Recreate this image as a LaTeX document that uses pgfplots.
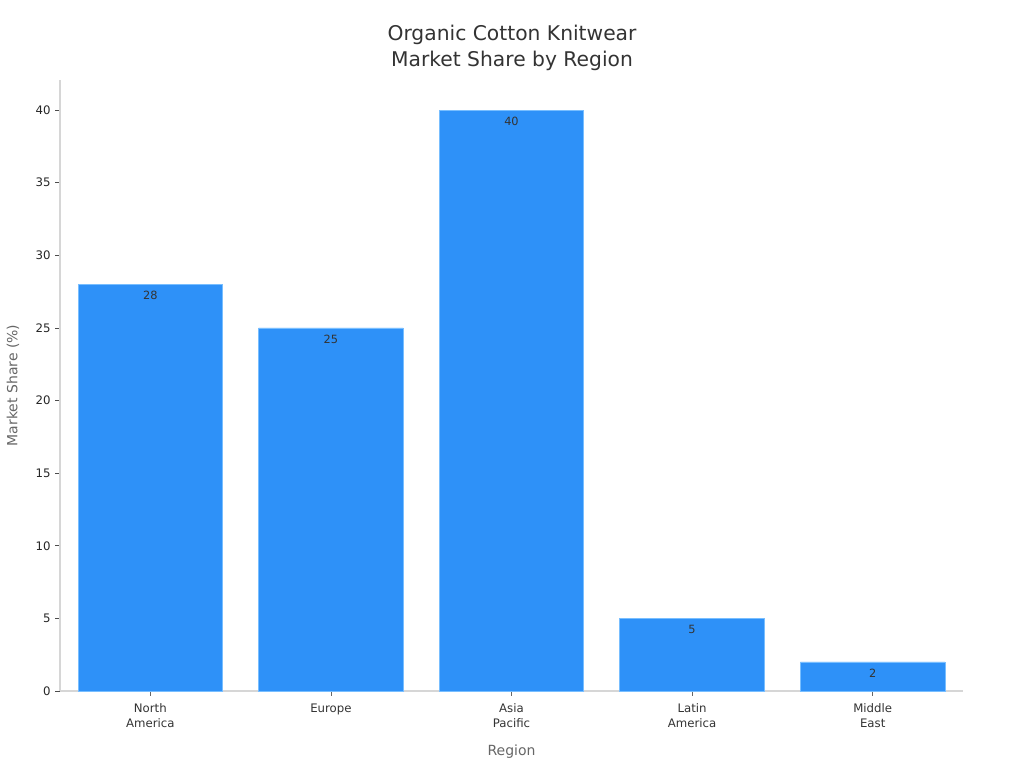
\documentclass[border=0pt]{standalone}
\usepackage{fontspec}
\setmainfont{DejaVu Sans}
\usepackage{pgfplots}
\pgfplotsset{compat=1.18}
\definecolor{barblue}{RGB}{46,145,248}
\definecolor{baredge}{RGB}{120,190,255}
\definecolor{axisgray}{RGB}{214,214,214}
\definecolor{textdark}{RGB}{51,51,51}
\definecolor{labelgray}{RGB}{102,102,102}

\begin{document}
\begin{tikzpicture}
\useasboundingbox (0,0) rectangle (768pt,576pt);
\begin{axis}[
    at={(45pt,57.75pt)}, anchor=south west,
    width=677.25pt, height=458.25pt, scale only axis,
    xmin=-0.5, xmax=4.5,
    ymin=0, ymax=42.07,
    axis x line*=bottom, axis y line*=left,
    axis line style={axisgray, line width=0.8pt},
    xtick={0,1,2,3,4},
    xticklabels={{North\\America},{Europe},{Asia\\Pacific},{Latin\\America},{Middle\\East}},
    xticklabel style={align=center, font=\fontsize{8.8}{11.25}\selectfont, text=textdark, yshift=-2.5pt},
    ytick={0,5,...,40},
    yticklabel style={font=\fontsize{8.8}{10}\selectfont, text=black!85},
    /pgf/number format/assume math mode=true,
    tick align=outside,
    major tick length=3.5pt,
    x tick style={labelgray, line width=0.6pt},
    y tick style={black!70, line width=0.6pt},
    xlabel={Region},
    ylabel={Market Share (\%)},
    xlabel style={font=\fontsize{10.5}{12}\selectfont, text=labelgray, at={(axis description cs:0.5,-0.0966)}, anchor=center, yshift=-1pt},
    ylabel style={font=\fontsize{10.5}{12}\selectfont, text=labelgray, at={(axis description cs:-0.052,0.5)}, anchor=center, rotate=0},
    ybar, bar width=0.8,
    nodes near coords,
    nodes near coords style={anchor=north, yshift=-1.5pt, font=\fontsize{8.5}{10}\selectfont, text=textdark},
    clip=false,
]
\addplot[fill=barblue, draw=baredge, line width=0.6pt] coordinates {
    (0,28) (1,25) (2,40) (3,5) (4,2)
};
\end{axis}
\node[align=center, font=\fontsize{15.2}{19.5}\selectfont, text=textdark] at (384pt,540pt) {Organic Cotton Knitwear\\Market Share by Region};
\end{tikzpicture}
\end{document}
